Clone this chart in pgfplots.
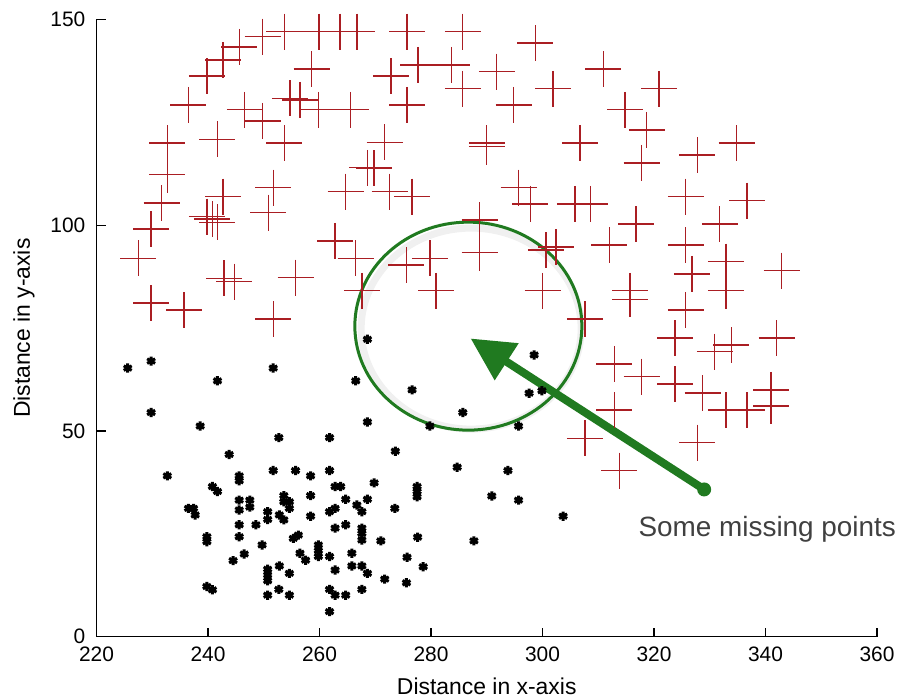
\documentclass[border=0pt]{standalone}
\usepackage{fontspec}
\setmainfont{Liberation Sans}
\usepackage{pgfplots}
\pgfplotsset{compat=1.18}
\usetikzlibrary{arrows.meta}
\definecolor{plusred}{RGB}{170,30,35}
\definecolor{annogreen}{RGB}{32,122,32}
\definecolor{textgray}{RGB}{64,64,64}
\begin{document}
\begin{tikzpicture}
\begin{axis}[
  scale only axis, width=780.5bp, height=617bp,
  xmin=220, xmax=360, ymin=0, ymax=150,
  axis lines=left, axis line style={-, line width=1.2bp, black},
  xtick={220,240,...,360}, ytick={0,50,100,150},
  tick align=inside, major tick length=9bp,
  tick style={line width=1.2bp, black},
  /pgf/number format/assume math mode=true,
  ticklabel style={font=\fontsize{21}{24}\selectfont},
  x tick label style={anchor=north, inner sep=0pt, yshift=-10bp},
  y tick label style={anchor=east, inner sep=0pt, xshift=-11bp},
  xlabel={Distance in x-axis}, ylabel={Distance in y-axis},
  label style={font=\fontsize{23}{27}\selectfont},
  xlabel style={at={(axis description cs:0.5,-0.0807)}, anchor=center},
  ylabel style={at={(axis description cs:-0.0929,0.5)}, anchor=center},
  clip=false,
]
\coordinate (bl) at (rel axis cs:0,0);
\coordinate (tr) at (rel axis cs:1,1);

\addplot[only marks, mark=+, mark size=18bp, color=plusred, mark options={line width=1.4bp}] table {
x y
249.8 145.9
253.7 147.1
259.9 147.1
263.7 147.1
266.7 147.1
275.7 147.1
285.7 147.1
298.7 144.3
245.6 143.4
242.7 140.2
277.7 139.0
283.7 139.0
258.6 138.0
310.9 138.0
291.8 137.4
239.8 136.3
272.8 136.3
285.7 133.2
301.9 133.2
320.9 133.2
254.7 130.9
256.5 130.5
236.5 129.3
275.7 129.3
294.8 129.3
246.6 128.1
259.8 128.1
265.6 128.1
314.8 128.1
249.8 125.4
318.7 123.2
241.7 120.9
232.7 120.0
253.7 120.0
271.7 120.2
290.0 120.0
290.0 119.1
306.7 120.0
334.8 120.0
327.8 117.1
317.8 115.2
268.6 114.0
269.8 113.9
232.7 112.3
251.7 109.2
295.7 109.2
272.6 108.2
264.7 108.2
242.7 107.0
276.6 107.0
325.7 107.0
336.7 106.0
231.7 105.4
297.8 105.2
305.8 105.2
308.6 105.2
250.8 103.1
239.8 102.1
240.8 101.5
241.7 100.7
288.7 101.3
316.8 100.3
331.8 100.3
229.8 99.1
262.8 96.2
312.0 95.2
325.7 95.2
300.6 94.0
302.4 94.7
288.7 93.4
227.5 92.0
266.5 92.0
279.8 92.0
332.9 91.2
275.6 90.4
342.9 89.0
326.8 88.2
242.9 87.1
244.7 86.3
255.7 87.3
267.6 84.1
280.9 84.1
300.0 84.1
315.7 84.1
315.7 82.0
332.9 84.1
229.8 81.1
235.7 79.4
325.7 79.4
251.7 77.2
307.6 77.2
323.8 72.6
342.0 72.6
333.9 70.9
330.9 69.3
312.9 66.3
317.8 63.2
323.8 61.4
341.0 60.0
328.7 59.2
341.0 56.1
312.9 55.1
332.9 55.1
336.7 55.1
307.6 48.2
327.8 47.2
313.8 40.4
};

\addplot[only marks, mark=asterisk, mark size=4.6bp, color=black, mark options={line width=3bp}] table {
x y
268.6 72.3
225.6 65.3
229.8 67.0
251.7 65.3
241.7 62.2
266.5 62.2
229.8 54.5
238.6 51.2
268.6 52.2
252.7 48.4
261.8 48.4
243.8 44.3
273.6 45.1
232.7 39.1
251.7 40.4
255.7 40.4
261.8 40.4
258.4 39.1
245.6 39.1
245.6 37.9
269.8 37.4
240.8 36.5
241.7 35.3
262.8 36.5
263.8 36.5
258.4 34.3
253.6 34.3
253.6 32.8
254.6 32.8
254.6 31.2
245.6 33.2
247.5 33.2
247.5 31.5
264.7 33.4
268.6 33.4
236.5 31.2
237.4 31.2
237.7 29.6
245.6 30.8
250.7 30.4
250.7 28.5
252.8 29.6
253.6 28.4
261.8 30.4
262.8 31.2
266.7 32.0
267.6 30.4
273.5 31.2
258.4 29.3
245.6 27.2
248.6 27.2
264.7 27.2
262.8 26.4
267.6 26.4
267.6 25.1
267.6 23.5
245.6 24.3
239.8 24.3
239.8 23.1
256.2 24.7
255.3 23.9
249.7 22.3
271.0 23.3
259.8 22.3
259.8 20.9
259.8 19.5
246.5 20.1
244.5 18.5
256.5 20.3
257.5 18.6
261.8 19.5
265.8 20.3
265.8 17.2
252.8 17.2
250.7 16.4
250.7 15.0
250.7 13.6
254.6 15.4
262.8 16.2
267.6 17.2
268.6 15.4
271.7 14.0
239.8 12.2
240.8 11.4
252.7 11.5
250.7 10.1
254.6 10.1
261.8 11.5
262.8 10.1
264.7 10.1
267.6 11.5
261.8 6.1
279.8 51.2
295.7 51.2
284.7 41.2
293.8 40.4
277.5 36.5
277.5 35.3
277.5 34.0
290.9 34.2
295.7 33.2
303.7 29.3
277.6 24.2
287.7 23.3
275.7 19.3
278.6 17.0
275.6 13.1
298.5 68.5
276.6 60.0
285.7 54.5
297.6 59.2
299.9 59.8
};

% annotation: shadow, ellipse, arrow, text
\draw[black, opacity=0.06, line width=7bp] (axis cs:287.2,74.9) ellipse [x radius=110bp, y radius=100.5bp];
\draw[annogreen, line width=3bp] (axis cs:286.7,75.5) ellipse [x radius=113.5bp, y radius=104bp];
\draw[annogreen, line width=8bp, -{Triangle[length=43bp,width=42bp]}] (axis cs:329.0,35.8) -- (axis cs:287.1,72.5);
\fill[annogreen] (axis cs:329.0,35.8) circle [radius=7bp];
\node[anchor=base west, inner sep=0pt, text=textgray, font=\fontsize{28}{32}\selectfont] at (axis cs:317.2,24.3) {Some missing points};
\end{axis}
\pgfresetboundingbox
\path ([shift={(-96.5bp,-62.3bp)}]bl) rectangle ([shift={(22bp,19.7bp)}]tr);
\end{tikzpicture}
\end{document}
